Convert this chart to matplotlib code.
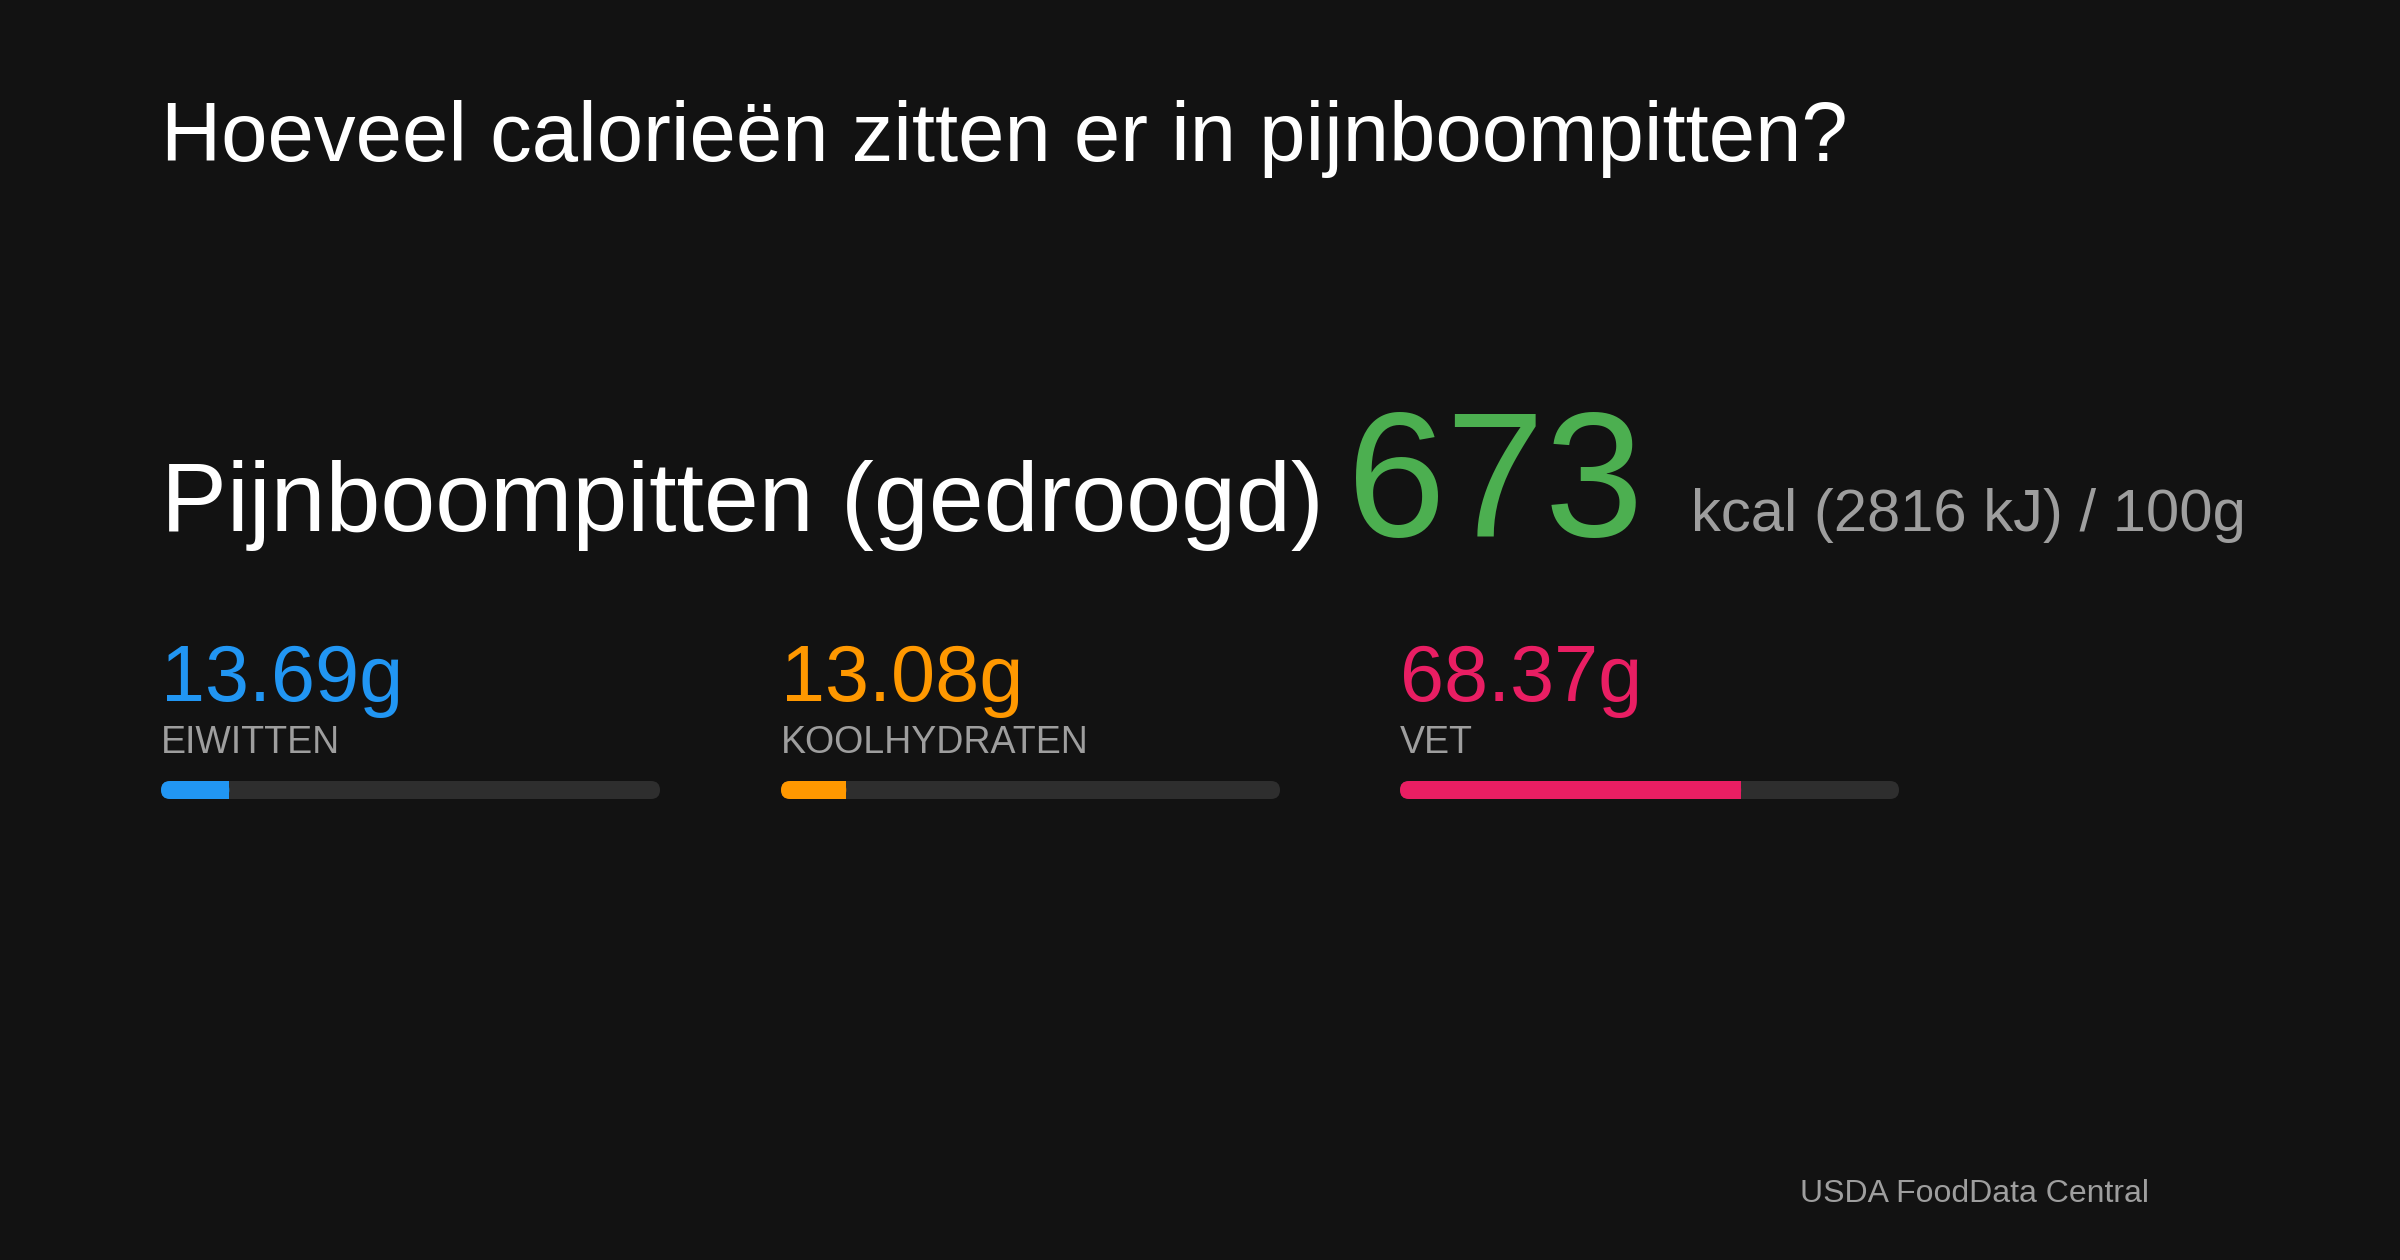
import matplotlib
matplotlib.use("Agg")
import matplotlib.pyplot as plt
from matplotlib.patches import FancyBboxPatch

plt.rcParams['font.family'] = ['Liberation Sans', 'DejaVu Sans']

title = "Hoeveel calorieën zitten er in pijnboompitten?"
food = "Pijnboompitten (gedroogd)"
kcal = 673
kj = 2816
macro_names = ["EIWITTEN", "KOOLHYDRATEN", "VET"]
macro_values = [13.69, 13.08, 68.37]
macro_colors = ["#2196f3", "#ff9800", "#e91e63"]
source = "USDA FoodData Central"

BG = "#121212"
GRAY = "#9e9e9e"

fig = plt.figure(figsize=(24, 12.6), dpi=100, facecolor=BG)
ax = fig.add_axes([0, 0, 1, 1])
ax.set_facecolor(BG)
ax.set_xlim(0, 2400)
ax.set_ylim(1260, 0)
ax.axis('off')

ax.text(161, 161, title, color="white", fontsize=60, va='baseline')

t = ax.text(161, 531, food, color="white", fontsize=71, va='baseline')
ax.text(1347, 536, str(kcal), color="#4caf50", fontsize=128, va='baseline')
ax.text(1691, 531, "kcal (%d kJ) / 100g" % kj, color=GRAY, fontsize=43, va='baseline')

xs = [161, 781, 1400]
bar_w = 499
bar_h = 18
bar_y = 781
for x, name, val, col in zip(xs, macro_names, macro_values, macro_colors):
    ax.text(x, 701, "%.2fg" % val, color=col, fontsize=57, va='baseline')
    ax.text(x, 753, name, color=GRAY, fontsize=27, va='baseline')
    ax.add_patch(FancyBboxPatch((x, bar_y), bar_w, bar_h,
                                boxstyle="round,pad=0,rounding_size=9",
                                fc="#2e2e2e", ec="none", mutation_aspect=1))
    ax.add_patch(FancyBboxPatch((x, bar_y), bar_w * val / 100, bar_h,
                                boxstyle="round,pad=0,rounding_size=9",
                                fc=col, ec="none", mutation_aspect=1))
    # square off right end of filled part
    ax.add_patch(plt.Rectangle((x + 9, bar_y), bar_w * val / 100 - 9, bar_h,
                               fc=col, ec="none"))

ax.text(1800, 1202, source, color=GRAY, fontsize=23, va='baseline')

fig.savefig("out.png", dpi=100, facecolor=BG)
